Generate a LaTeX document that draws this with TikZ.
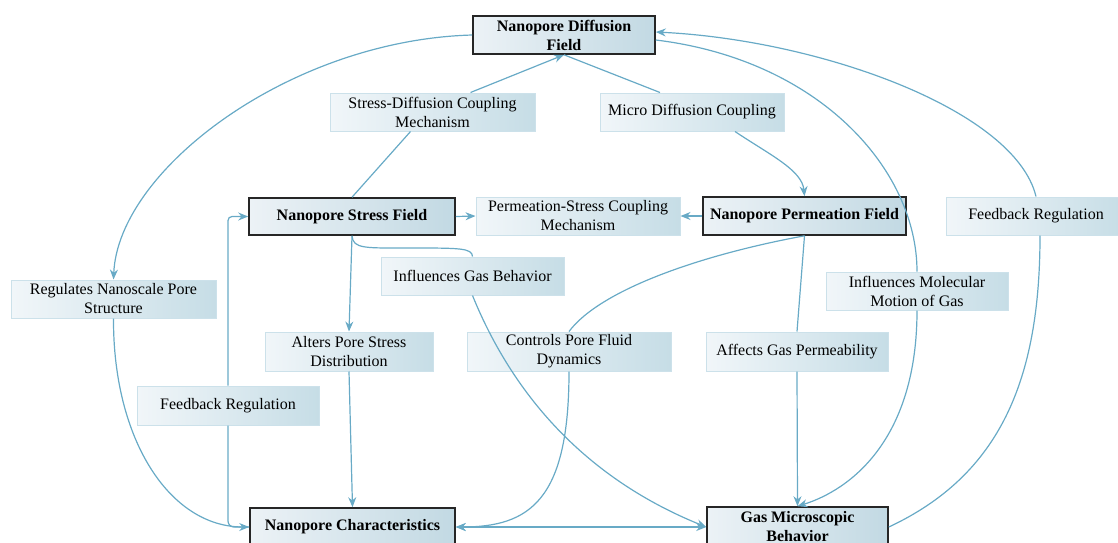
\documentclass[tikz,border=0pt]{standalone}
\usepackage{fontspec}
\setmainfont{Liberation Serif}
\usetikzlibrary{arrows.meta,calc}
\definecolor{edgec}{RGB}{104,170,198}
\definecolor{mainL}{RGB}{236,242,246}
\definecolor{mainR}{RGB}{194,217,227}
\definecolor{labL}{RGB}{241,246,249}
\definecolor{labR}{RGB}{198,221,230}
\definecolor{labD}{RGB}{204,225,234}
\tikzset{
  mainbox/.style={draw=black!85, line width=1.6pt, left color=mainL, right color=mainR,
    font=\fontsize{16}{19}\selectfont\bfseries, align=center, inner sep=0pt},
  labbox/.style={draw=labD, line width=1pt, left color=labL, right color=labR,
    font=\fontsize{16}{19}\selectfont, align=center, inner sep=0pt},
  conn/.style={draw=edgec, line width=1.2pt},
  arr/.style={conn, -{Stealth[length=10pt,width=8pt]}},
  darr/.style={conn, {Stealth[length=10pt,width=8pt]}-{Stealth[length=10pt,width=8pt]}},
}
\begin{document}
\begin{tikzpicture}[x=1pt,y=-1pt]
\useasboundingbox (0,0) rectangle (1118,542);

% main nodes
\node[mainbox, minimum width=182, minimum height=38] (diff) at (564,35) {Nanopore Diffusion\\Field};
\node[mainbox, minimum width=206, minimum height=37] (stress) at (352,216.5) {Nanopore Stress Field};
\node[mainbox, minimum width=203, minimum height=38] (perm) at (804.5,216) {Nanopore Permeation Field};
\node[mainbox, minimum width=205, minimum height=38] (char) at (352.5,527) {Nanopore Characteristics};
\node[mainbox, minimum width=181, minimum height=40] (gas) at (797.5,527) {Gas Microscopic\\Behavior};

% label nodes
\node[labbox, minimum width=205, minimum height=38] (sdc) at (432.5,112) {Stress-Diffusion Coupling\\Mechanism};
\node[labbox, minimum width=184, minimum height=38] (mdc) at (692,112) {Micro Diffusion Coupling};
\node[labbox, minimum width=204, minimum height=38] (psc) at (578,216) {Permeation-Stress Coupling\\Mechanism};
\node[labbox, minimum width=180, minimum height=38] (fbr) at (1036,216) {Feedback Regulation};
\node[labbox, minimum width=205, minimum height=38] (reg) at (113.5,299) {Regulates Nanoscale Pore\\Structure};
\node[labbox, minimum width=183, minimum height=38] (igb) at (472.5,276) {Influences Gas Behavior};
\node[labbox, minimum width=182, minimum height=38] (imm) at (917,291) {Influences Molecular\\Motion of Gas};
\node[labbox, minimum width=168, minimum height=39] (alt) at (349,351.5) {Alters Pore Stress\\Distribution};
\node[labbox, minimum width=204, minimum height=39] (cpf) at (569,351.5) {Controls Pore Fluid\\Dynamics};
\node[labbox, minimum width=182, minimum height=39] (agp) at (797,351.5) {Affects Gas Permeability};
\node[labbox, minimum width=182, minimum height=39] (fbl) at (228,405.5) {Feedback Regulation};

% Diffusion -> Regulates -> Characteristics
\draw[arr] (diff.west) .. controls (290,40) and (118,170) .. (reg.north);
\draw[arr] (reg.south) .. controls (113,440) and (170,527) .. (char.west);

% Stress -> Stress-Diffusion -> Diffusion
\draw[conn] (stress.north) -- ($(sdc.south)+(-22,0)$);
\draw[arr] ($(sdc.north)+(38,0)$) -- (diff.south);

% Diffusion -> Micro Diffusion -> Permeation
\draw[conn] (diff.south) -- ($(mdc.north)+(-32,0)$);
\draw[arr] ($(mdc.south)+(43,0)$) .. controls (770,155) and (802,170) .. (perm.north);

% Permeation-Stress coupling
\draw[arr] (stress.east) -- (psc.west);
\draw[arr] (perm.west) -- (psc.east);

% Permeation -> Controls -> Characteristics
\draw[conn] (perm.south) .. controls (700,255) and (600,290) .. (cpf.north);
\draw[arr] (cpf.south) .. controls (569,500) and (530,527) .. (char.east);

% Characteristics <-> Gas
\draw[darr] (char.east) -- (gas.west);

% Stress -> Influences Gas Behavior -> Gas
\draw[conn] (stress.south) .. controls (353,249) and (365,248) .. (410,248)
  .. controls (460,248) and (472,248) .. (igb.north);
\draw[arr] (igb.south) .. controls (515,400) and (590,480) .. (gas.west);

% Stress -> Alters -> Characteristics
\draw[arr] (stress.south) -- (alt.north);
\draw[arr] (alt.south) -- (char.north);

% Characteristics -> Feedback (left) -> Stress
\draw[conn, rounded corners=6] (char.west) -| (fbl.south);
\draw[arr, rounded corners=4] (fbl.north) |- (stress.west);

% Permeation -> Affects -> Gas
\draw[conn] (perm.south) -- (agp.north);
\draw[arr] (agp.south) -- (gas.north);

% Diffusion -> Influences Molecular -> Gas
\draw[conn] ($(diff.east)+(0,5)$) .. controls (820,60) and (917,170) .. (imm.north);
\draw[arr] (imm.south) .. controls (917,440) and (850,490) .. (gas.north);

% Gas -> Feedback (right) -> Diffusion
\draw[conn] (gas.east) .. controls (1000,475) and (1040,380) .. ($(fbr.south)+(4,0)$);
\draw[arr] (fbr.north) .. controls (1015,110) and (820,40) .. ($(diff.east)+(0,-3)$);
\end{tikzpicture}
\end{document}
